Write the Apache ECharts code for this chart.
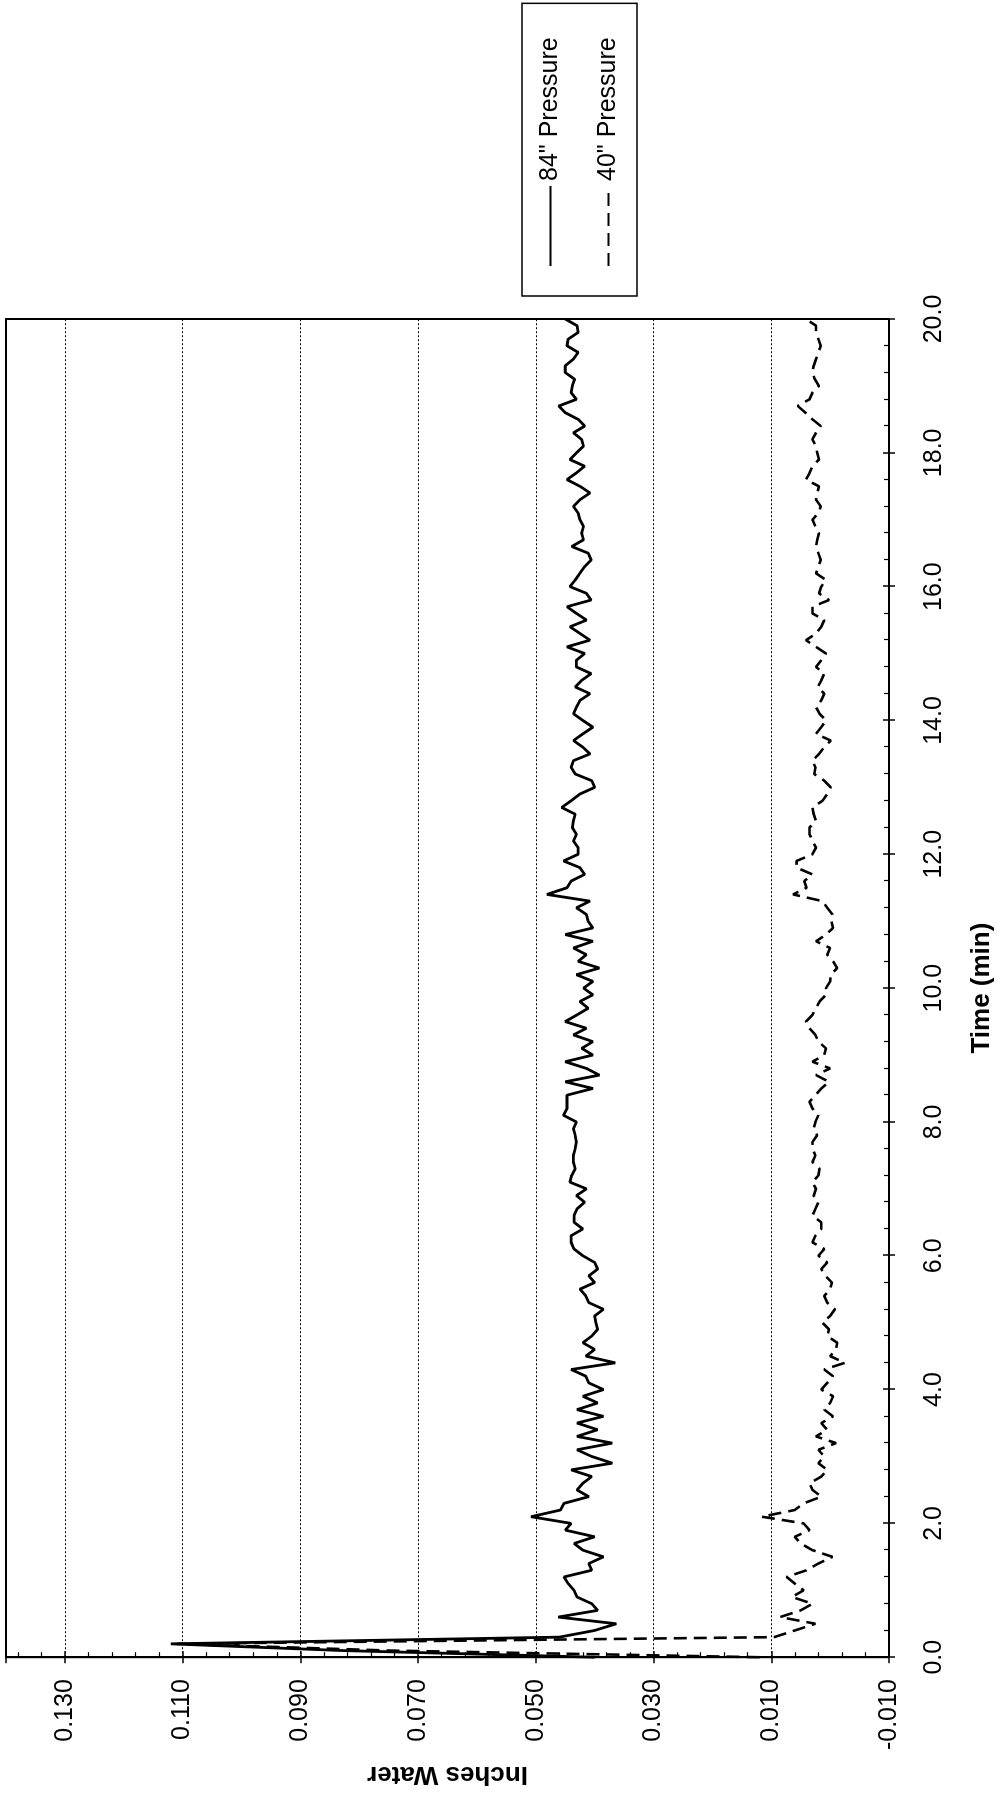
<!DOCTYPE html>
<html>
<head>
<meta charset="utf-8">
<title>Pressure vs Time</title>
<script src="https://cdn.jsdelivr.net/npm/echarts@6/dist/echarts.min.js"></script>
<style>
    html, body { margin: 0; padding: 0; background: #fff; overflow: hidden; }
    body { width: 1000px; height: 1795px; position: relative; }
    /* chart is drawn landscape, then turned a quarter to match the scan */
    #chart {
        position: absolute; left: 0; top: 0;
        width: 1795px; height: 1000px;
        transform-origin: 0 0;
        transform: translate(0, 1795px) rotate(-90deg);
    }
</style>
</head>
<body>
<div id="chart"></div>
<script>
var FONT = '"Liberation Sans", Arial, sans-serif';

var seriesNames = ['84" Pressure', '40" Pressure'];
var timeStep = 0.1; // min between samples, first sample at 0.0
var valueTickLabels = ['-0.010', '0.010', '0.030', '0.050', '0.070', '0.090', '0.110', '0.130'];
var timeTickLabels = ['0.0', '2.0', '4.0', '6.0', '8.0', '10.0', '12.0', '14.0', '16.0', '18.0', '20.0'];

// 84" Pressure, one row per minute
var pressure84 = [
    0.040, 0.083, 0.112, 0.046, 0.040, 0.0363, 0.0462, 0.0395, 0.0405, 0.043,
    0.0435, 0.0445, 0.0452, 0.0405, 0.041, 0.0385, 0.042, 0.0435, 0.040, 0.045,
    0.044, 0.0508, 0.0458, 0.0452, 0.041, 0.043, 0.042, 0.0405, 0.044, 0.037,
    0.0405, 0.043, 0.037, 0.043, 0.0395, 0.043, 0.0385, 0.043, 0.0395, 0.042,
    0.0385, 0.041, 0.0415, 0.044, 0.0365, 0.0415, 0.040, 0.042, 0.0405, 0.0395,
    0.0398, 0.040, 0.0385, 0.041, 0.0415, 0.0425, 0.040, 0.041, 0.0395, 0.040,
    0.042, 0.0435, 0.044, 0.044, 0.042, 0.0435, 0.0435, 0.043, 0.0417, 0.0431,
    0.0414, 0.0442, 0.0439, 0.0433, 0.0436, 0.0436, 0.0433, 0.0431, 0.0433, 0.0436,
    0.0431, 0.0453, 0.0447, 0.0447, 0.0447, 0.0403, 0.0450, 0.0392, 0.0414, 0.0450,
    0.0403, 0.0422, 0.0403, 0.0436, 0.0414, 0.0450, 0.0430, 0.0411, 0.0425, 0.0403,
    0.0419, 0.0403, 0.0431, 0.0392, 0.0428, 0.0414, 0.0436, 0.0403, 0.0450, 0.0403,
    0.0411, 0.0414, 0.0431, 0.0408, 0.0481, 0.0447, 0.0440, 0.0417, 0.0425, 0.0453,
    0.0428, 0.0428, 0.0436, 0.0431, 0.0438, 0.0436, 0.0433, 0.0456, 0.0440, 0.0425,
    0.0400, 0.0405, 0.0433, 0.0440, 0.0436, 0.0408, 0.0420, 0.0436, 0.0420, 0.0403,
    0.0420, 0.0436, 0.0431, 0.0425, 0.0408, 0.0433, 0.0422, 0.0406, 0.0431, 0.0431,
    0.0417, 0.0447, 0.0408, 0.0425, 0.0442, 0.0414, 0.0431, 0.0447, 0.0406, 0.0414,
    0.0442, 0.0433, 0.0425, 0.0417, 0.0406, 0.0411, 0.0439, 0.0419, 0.0422, 0.0419,
    0.0425, 0.0428, 0.0436, 0.0425, 0.0408, 0.0425, 0.0447, 0.0431, 0.0417, 0.0442,
    0.0431, 0.0419, 0.0422, 0.0436, 0.0417, 0.0428, 0.0450, 0.0461, 0.0431, 0.0440,
    0.0438, 0.0434, 0.0450, 0.0450, 0.0436, 0.0428, 0.0447, 0.0445, 0.0428, 0.0430,
    0.0450
];

// 40" Pressure
var pressure40 = [
    0.012, 0.075, 0.111, 0.0095, 0.0060, 0.0025, 0.0085, 0.0050, 0.0030, 0.0065,
    0.0045, 0.0060, 0.0074, 0.0040, 0.0020, -0.0004, 0.0030, 0.0050, 0.0060, 0.0035,
    0.0045, 0.0116, 0.0060, 0.0045, 0.0015, 0.0030, 0.0035, 0.0015, 0.0005, 0.0020,
    0.0010, 0.0020, -0.0010, 0.0024, 0.0005, 0.0015, -0.0005, 0.0010, 0.0000, -0.0005,
    0.0015, 0.0005, -0.0005, 0.0010, -0.0025, 0.0000, -0.0010, -0.0012, 0.0005, 0.0002,
    0.0013, 0.0000, -0.0008, 0.0005, 0.0010, 0.0000, -0.0003, 0.0008, 0.0015, 0.0005,
    0.0020, 0.0010, 0.0030, 0.0025, 0.0015, 0.0015, 0.0030, 0.0025, 0.0020, 0.0028,
    0.0024, 0.0030, 0.0020, 0.0018, 0.0030, 0.0025, 0.0030, 0.0030, 0.0022, 0.0028,
    0.0025, 0.0020, 0.0030, 0.0035, 0.0025, 0.0015, 0.0002, 0.0024, 0.0000, 0.0030,
    0.0010, 0.0007, 0.0020, 0.0025, 0.0035, 0.0041, 0.0030, 0.0024, 0.0018, 0.0007,
    0.0007, 0.0000, -0.0001, -0.0012, -0.0005, 0.0005, 0.0000, 0.0024, 0.0007, -0.0005,
    -0.0002, -0.0004, 0.0005, 0.0013, 0.0063, 0.0040, 0.0044, 0.0030, 0.0057, 0.0057,
    0.0030, 0.0024, 0.0030, 0.0035, 0.0035, 0.0024, 0.0028, 0.0030, 0.0013, 0.0005,
    -0.0001, 0.0010, 0.0027, 0.0025, 0.0030, 0.0019, 0.0010, -0.0001, 0.0024, 0.0015,
    0.0007, 0.0018, 0.0024, 0.0015, 0.0010, 0.0021, 0.0015, 0.0010, 0.0024, 0.0015,
    0.0007, 0.0024, 0.0041, 0.0024, 0.0015, 0.0010, 0.0030, 0.0030, 0.0002, 0.0019,
    0.0015, 0.0007, 0.0024, 0.0020, 0.0016, 0.0020, 0.0024, 0.0022, 0.0019, 0.0025,
    0.0030, 0.0020, 0.0016, 0.0024, 0.0022, 0.0019, 0.0041, 0.0035, 0.0030, 0.0019,
    0.0022, 0.0024, 0.0030, 0.0024, 0.0016, 0.0030, 0.0042, 0.0055, 0.0035, 0.0030,
    0.0019, 0.0026, 0.0030, 0.0028, 0.0024, 0.0020, 0.0016, 0.0020, 0.0024, 0.0024,
    0.0041
];

function toPairs(values) {
    var out = [];
    for (var i = 0; i < values.length; i++) {
        out.push([+(i * timeStep).toFixed(1), values[i]]);
    }
    return out;
}

var myChart = echarts.init(document.getElementById('chart'), null, {width: 1795, height: 1000});

var black = '#000';

var option = {
    animation: false,
    backgroundColor: '#fff',
    grid: {
        left: 132, right: 319, top: 6, bottom: 97,
        show: true, borderColor: black, borderWidth: 2, backgroundColor: 'transparent'
    },
    legend: {
        orient: 'vertical',
        left: 1499, top: 522,
        padding: [16, 34, 16, 29],
        itemGap: 33,
        itemWidth: 80,
        itemHeight: 14,
        borderColor: black,
        borderWidth: 1.5,
        itemStyle: {opacity: 0},   // line only, no marker dot
        textStyle: {fontSize: 25, color: black, fontFamily: FONT},
        data: seriesNames
    },
    xAxis: [
        {
            type: 'value', min: 0, max: 20, interval: 2,
            name: 'Time (min)', nameLocation: 'middle', nameGap: 80,
            nameTextStyle: {fontSize: 26, fontWeight: 'bold', color: black, fontFamily: FONT},
            axisLine: {show: true, onZero: false, lineStyle: {color: black, width: 2}},
            axisTick: {show: true, inside: true, length: 6, lineStyle: {color: black, width: 1.5}},
            minorTick: {show: true, splitNumber: 5, length: 5, lineStyle: {color: black, width: 1.2}},
            axisLabel: {
                fontSize: 25, color: black, fontFamily: FONT, margin: 33,
                formatter: function (v) {
                    var s = v.toFixed(1);
                    return timeTickLabels.indexOf(s) >= 0 ? s : '';
                }
            },
            splitLine: {show: false}
        },
        {   // outward half of the major ticks
            type: 'value', min: 0, max: 20, interval: 2, position: 'bottom',
            axisLine: {show: false, onZero: false},
            axisTick: {show: true, inside: false, length: 6, lineStyle: {color: black, width: 1.5}},
            axisLabel: {show: false},
            splitLine: {show: false}
        }
    ],
    yAxis: [
        {
            type: 'value', min: -0.01, max: 0.14, interval: 0.02,
            name: 'Inches Water', nameLocation: 'middle', nameGap: 100,
            nameTextStyle: {fontSize: 26, fontWeight: 'bold', color: black, fontFamily: FONT},
            axisLine: {show: true, onZero: false, lineStyle: {color: black, width: 2}},
            axisTick: {show: true, inside: true, length: 6, lineStyle: {color: black, width: 1.5}},
            minorTick: {show: true, splitNumber: 5, length: 5, lineStyle: {color: black, width: 1.2}},
            axisLabel: {
                fontSize: 25, color: black, fontFamily: FONT, margin: 22,
                formatter: function (v) {
                    var s = v.toFixed(3);
                    return valueTickLabels.indexOf(s) >= 0 ? s : '';
                }
            },
            splitLine: {show: true, lineStyle: {color: black, width: 1, type: [2, 2]}}
        },
        {
            type: 'value', min: -0.01, max: 0.14, interval: 0.02, position: 'left',
            axisLine: {show: false, onZero: false},
            axisTick: {show: true, inside: false, length: 6, lineStyle: {color: black, width: 1.5}},
            axisLabel: {show: false},
            splitLine: {show: false}
        }
    ],
    series: [
        {
            name: seriesNames[0],
            type: 'line',
            xAxisIndex: 0, yAxisIndex: 0,
            symbol: 'none',
            lineStyle: {color: black, width: 2.8},
            itemStyle: {color: black},
            data: toPairs(pressure84)
        },
        {
            name: seriesNames[1],
            type: 'line',
            xAxisIndex: 0, yAxisIndex: 0,
            symbol: 'none',
            lineStyle: {color: black, width: 2.6, type: [13, 7]},
            itemStyle: {color: black},
            data: toPairs(pressure40)
        }
    ]
};

myChart.setOption(option);
</script>
</body>
</html>
